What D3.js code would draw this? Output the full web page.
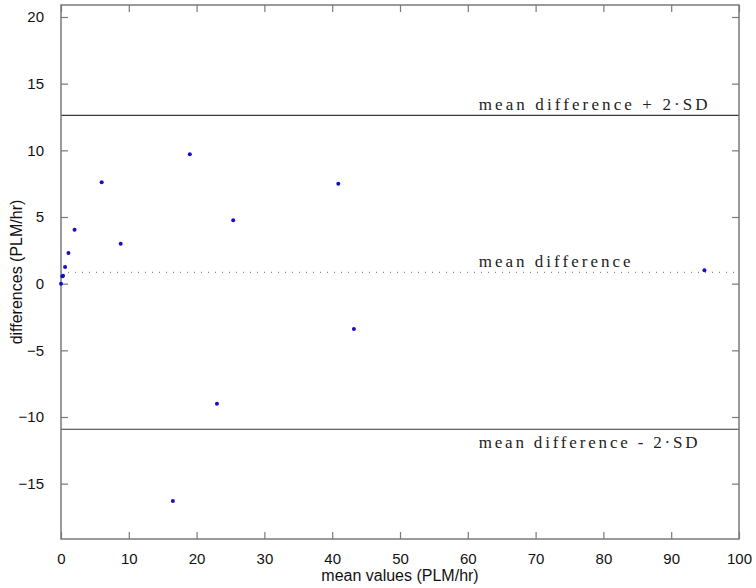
<!DOCTYPE html>
<html>
<head>
<meta charset="utf-8">
<script src="https://cdn.jsdelivr.net/npm/d3@7"></script>
<style>
  body { margin: 0; background: #fff; }
  svg { display: block; }
</style>
</head>
<body>
<div id="chart"></div>
<script>
// data
var meanValues = [0, 0.2, 0.3, 0.6, 1.1, 2.0, 6.0, 8.8, 16.5, 19.0, 23.0, 25.4, 40.9, 43.2, 94.9];
var differences = [0, 0.55, 0.6, 1.25, 2.3, 4.05, 7.6, 3.0, -16.3, 9.7, -9.0, 4.75, 7.5, -3.4, 1.0];
var xTicks = [0, 10, 20, 30, 40, 50, 60, 70, 80, 90, 100];
var yTicks = [-15, -10, -5, 0, 5, 10, 15, 20];
var meanDiff = 0.85;
var sd2 = 11.77;   // 2 * SD
var refLabels = ['mean difference + 2\u00b7SD', 'mean difference', 'mean difference - 2\u00b7SD'];

var width = 756, height = 588;
var margin = {top: 5, right: 17, bottom: 49, left: 61};
var tickLen = 7;

var svg = d3.select('#chart').append('svg')
  .attr('width', width)
  .attr('height', height);

var x = d3.scaleLinear().domain([0, 100]).range([margin.left, width - margin.right]);
var y = d3.scaleLinear().domain([-19.15, 20.9]).range([height - margin.bottom, margin.top]);

// axes, matlab style box with inward ticks
var axisColor = '#7a7a7a';
function styleAxis(g) {
  g.select('.domain').remove();
  g.selectAll('.tick line').attr('stroke', axisColor).attr('stroke-width', 1.2);
  g.selectAll('.tick text')
    .attr('fill', '#111')
    .style('font-family', 'Liberation Sans, Arial, sans-serif')
    .style('font-size', '15px');
}

svg.append('g')
  .attr('transform', 'translate(0,' + y.range()[0] + ')')
  .call(d3.axisBottom(x).tickValues(xTicks).tickSizeInner(-tickLen).tickSizeOuter(0).tickPadding(14))
  .call(styleAxis);

svg.append('g')
  .attr('transform', 'translate(0,' + y.range()[1] + ')')
  .call(d3.axisTop(x).tickValues(xTicks).tickSizeInner(-tickLen).tickSizeOuter(0).tickFormat(''))
  .call(styleAxis);

svg.append('g')
  .attr('transform', 'translate(' + x.range()[0] + ',0)')
  .call(d3.axisLeft(y).tickValues(yTicks).tickSizeInner(-tickLen).tickSizeOuter(0).tickPadding(17)
    .tickFormat(function(d) { return d < 0 ? '\u2212' + Math.abs(d) : d; }))
  .call(styleAxis);

svg.append('g')
  .attr('transform', 'translate(' + x.range()[1] + ',0)')
  .call(d3.axisRight(y).tickValues(yTicks).tickSizeInner(-tickLen).tickSizeOuter(0).tickFormat(''))
  .call(styleAxis);

// reference lines
var lines = [meanDiff + sd2, meanDiff, meanDiff - sd2];
svg.selectAll('line.ref')
  .data(lines)
  .enter().append('line')
  .attr('class', 'ref')
  .attr('x1', x.range()[0])
  .attr('x2', x.range()[1])
  .attr('y1', function(d) { return y(d); })
  .attr('y2', function(d) { return y(d); })
  .attr('stroke', function(d, i) { return i == 1 ? '#8a8a8a' : '#3a3a3a'; })
  .attr('stroke-width', function(d, i) { return i == 1 ? 1.2 : 1.1; })
  .attr('stroke-dasharray', function(d, i) { return i == 1 ? '1,6' : null; });

// labels for the lines
var labelPos = [{dy: -5, len: 229}, {dy: -5, len: 152}, {dy: 19, len: 219}];
svg.selectAll('text.ref')
  .data(refLabels)
  .enter().append('text')
  .attr('class', 'ref')
  .attr('x', x(61.6))
  .attr('y', function(d, i) { return y(lines[i]) + labelPos[i].dy; })
  .attr('textLength', function(d, i) { return labelPos[i].len; })
  .attr('lengthAdjust', 'spacing')
  .attr('fill', '#222')
  .style('font-family', 'Liberation Serif, DejaVu Serif, serif')
  .style('font-size', '17px')
  .text(function(d) { return d; });

// frame
svg.append('rect')
  .attr('x', x.range()[0])
  .attr('y', y.range()[1])
  .attr('width', x.range()[1] - x.range()[0])
  .attr('height', y.range()[0] - y.range()[1])
  .attr('fill', 'none')
  .attr('stroke', axisColor)
  .attr('stroke-width', 1.5);

// points
svg.selectAll('circle')
  .data(meanValues)
  .enter().append('circle')
  .attr('cx', function(d) { return x(d); })
  .attr('cy', function(d, i) { return y(differences[i]); })
  .attr('r', 2)
  .attr('fill', '#1010c8');

// axis titles
svg.append('text')
  .attr('x', (x.range()[0] + x.range()[1]) / 2)
  .attr('y', height - 7)
  .attr('text-anchor', 'middle')
  .attr('fill', '#111')
  .style('font-family', 'Liberation Sans, Arial, sans-serif')
  .style('font-size', '16px')
  .text('mean values (PLM/hr)');

svg.append('text')
  .attr('transform', 'translate(' + 22 + ',' + (y.range()[0] + y.range()[1]) / 2 + ') rotate(-90)')
  .attr('text-anchor', 'middle')
  .attr('fill', '#111')
  .style('font-family', 'Liberation Sans, Arial, sans-serif')
  .style('font-size', '16px')
  .text('differences (PLM/hr)');
</script>
</body>
</html>
